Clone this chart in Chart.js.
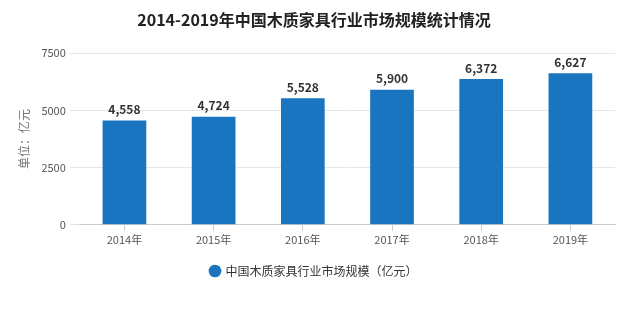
<!DOCTYPE html>
<html>
<head>
<meta charset="utf-8">
<script src="https://cdn.jsdelivr.net/npm/chart.js@4.4.0/dist/chart.umd.min.js"></script>
<style>
  html, body { margin: 0; padding: 0; background: #fff; }
  #wrap { width: 635px; height: 324px; }
</style>
</head>
<body>
<div id="wrap"><canvas id="chart"></canvas></div>
<script>
// Market size of China's wooden furniture industry
const years = ["2014年", "2015年", "2016年", "2017年", "2018年", "2019年"];
const marketSize = [4558, 4724, 5528, 5900, 6372, 6627];
const yTicks = [0, 2500, 5000, 7500];

const font = "'Microsoft YaHei', 'Noto Sans CJK SC', sans-serif";

// Draws the number above each bar
const valueLabels = {
  id: "valueLabels",
  afterDatasetsDraw(chart) {
    const ctx = chart.ctx;
    const meta = chart.getDatasetMeta(0);
    ctx.save();
    ctx.font = "bold 12px " + font;
    ctx.fillStyle = "#333";
    ctx.textAlign = "center";
    ctx.textBaseline = "bottom";
    meta.data.forEach((bar, i) => {
      ctx.fillText(marketSize[i].toLocaleString("en-US"), bar.x, bar.y - 5);
    });
    ctx.restore();
  }
};

new Chart(document.getElementById("chart"), {
  type: "bar",
  data: {
    labels: years,
    datasets: [{
      label: "中国木质家具行业市场规模（亿元）",
      data: marketSize,
      backgroundColor: "#1a75c0",
      barPercentage: 0.49,
      categoryPercentage: 1
    }]
  },
  options: {
    responsive: true,
    maintainAspectRatio: false,
    animation: false,
    layout: { padding: { left: 13, right: 20, top: 4, bottom: 37 } },
    plugins: {
      title: {
        display: true,
        text: "2014-2019年中国木质家具行业市场规模统计情况",
        color: "#222",
        font: { family: font, size: 16, weight: "bold" },
        padding: { top: 6, bottom: 24 }
      },
      legend: {
        position: "bottom",
        labels: {
          usePointStyle: true,
          pointStyle: "circle",
          boxWidth: 9,
          boxHeight: 9,
          color: "#333",
          font: { family: font, size: 12 },
          padding: 17
        }
      },
      tooltip: { enabled: false }
    },
    scales: {
      x: {
        grid: { display: true, drawOnChartArea: false, color: "#ccc", tickLength: 6, offset: false },
        border: { color: "#ccc" },
        ticks: { color: "#555", font: { family: font, size: 11 }, padding: 2 }
      },
      y: {
        min: 0,
        max: 7500,
        afterBuildTicks(axis) { axis.ticks = yTicks.map(v => ({ value: v })); },
        grid: { color: "#e6e6e6", tickLength: 10 },
        border: { display: false },
        ticks: {
          color: "#555",
          font: { family: font, size: 11 },
          padding: 4,
          callback: v => String(v)
        },
        title: {
          display: true,
          text: "单位：亿元",
          color: "#777",
          font: { family: font, size: 12 },
          padding: { bottom: 6 }
        }
      }
    }
  },
  plugins: [valueLabels]
});
</script>
</body>
</html>
